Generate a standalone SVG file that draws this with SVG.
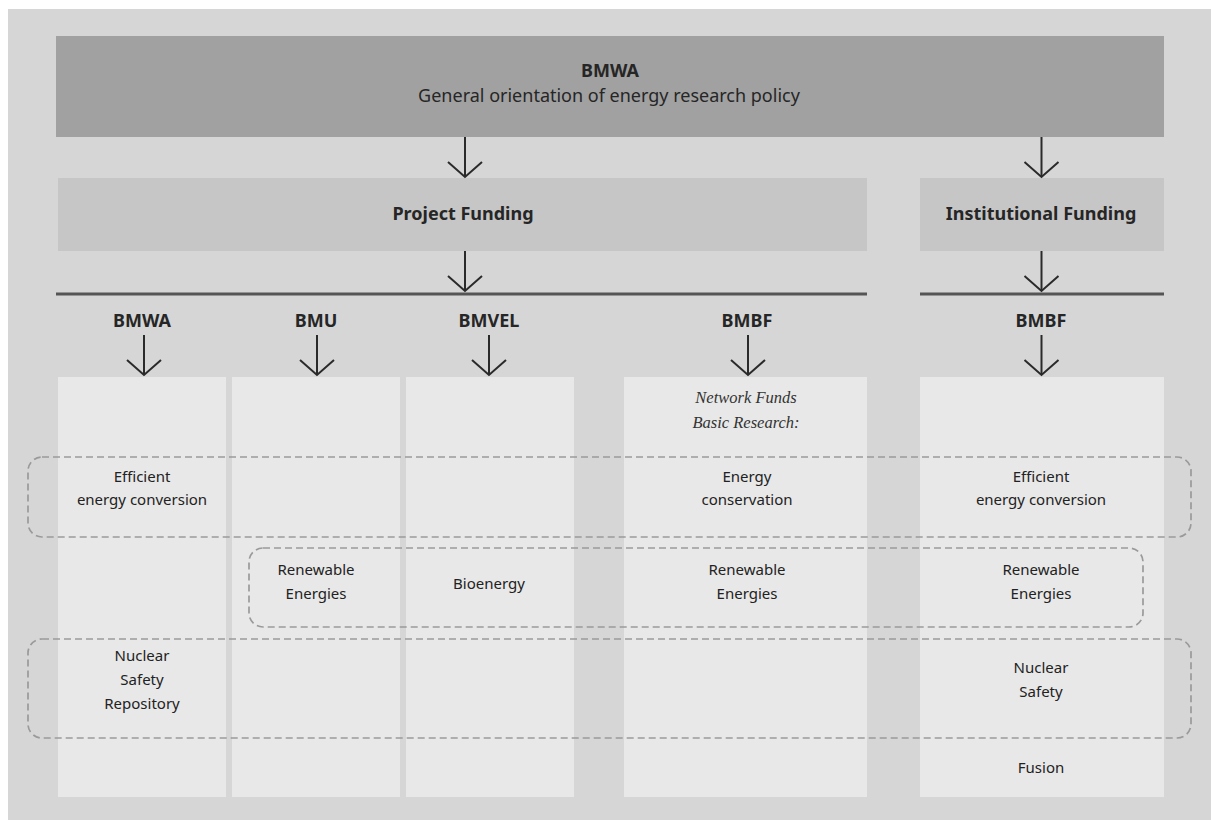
<svg xmlns="http://www.w3.org/2000/svg" width="1211" height="820" viewBox="0 0 1211 820">
<defs>
<style>
.hd{font-family:"Noto Sans","Liberation Sans",sans-serif;font-weight:bold;font-size:18px;fill:#262626;text-anchor:middle}
.sub{font-family:"Noto Sans","Liberation Sans",sans-serif;font-size:18px;fill:#262626;text-anchor:middle}
.lb{font-family:"Noto Sans","Liberation Sans",sans-serif;font-size:15px;fill:#222;text-anchor:middle}
.it{font-family:"Liberation Serif","DejaVu Serif",serif;font-style:italic;font-size:16.5px;fill:#333;text-anchor:middle}
.col{fill:#e8e8e8}
.arr{stroke:#2a2a2a;stroke-width:2;fill:none;marker-end:url(#v)}
.rule{stroke:#555;stroke-width:3}
.dash{fill:none;stroke:#9a9a9a;stroke-width:1.7;stroke-dasharray:7 4}
</style>
<marker id="v" markerUnits="userSpaceOnUse" viewBox="-20 -20 40 40" markerWidth="40" markerHeight="40" refX="0" refY="0" orient="auto" overflow="visible">
<path d="M-15,-17 L0,0 L-15,17" fill="none" stroke="#2a2a2a" stroke-width="2" stroke-linejoin="miter"/>
</marker>
</defs>
<rect x="0" y="0" width="1211" height="820" fill="#ffffff"/>
<rect x="8" y="9" width="1203" height="811" fill="#d6d6d6"/>

<g id="top">
<rect x="56" y="36" width="1108" height="101" fill="#a1a1a1"/>
<text class="hd" x="610" y="77">BMWA</text>
<text class="sub" x="609" y="102">General orientation of energy research policy</text>
</g>

<g id="project-funding">
<rect x="58" y="178" width="809" height="73" fill="#c6c6c6"/>
<text class="hd" x="463" y="220">Project Funding</text>
</g>

<g id="institutional-funding">
<rect x="920" y="178" width="244" height="73" fill="#c6c6c6"/>
<text class="hd" x="1041" y="220">Institutional Funding</text>
</g>

<g id="col-bmwa">
<text class="hd" x="142" y="327">BMWA</text>
<rect class="col" x="58" y="377" width="168" height="420"/>
</g>
<g id="col-bmu">
<text class="hd" x="316" y="327">BMU</text>
<rect class="col" x="232" y="377" width="168" height="420"/>
</g>
<g id="col-bmvel">
<text class="hd" x="489" y="327">BMVEL</text>
<rect class="col" x="406" y="377" width="168" height="420"/>
</g>
<g id="col-bmbf-project">
<text class="hd" x="747" y="327">BMBF</text>
<rect class="col" x="624" y="377" width="243" height="420"/>
<text class="it" x="746" y="403">Network Funds</text>
<text class="it" x="746" y="428">Basic Research:</text>
</g>
<g id="col-bmbf-inst">
<text class="hd" x="1041" y="327">BMBF</text>
<rect class="col" x="920" y="377" width="244" height="420"/>
</g>

<g id="connectors">
<line class="rule" x1="56" y1="294" x2="867" y2="294"/>
<line class="rule" x1="920" y1="294" x2="1164" y2="294"/>
<line class="arr" x1="465" y1="137" x2="465" y2="177"/>
<line class="arr" x1="1041.5" y1="137" x2="1041.5" y2="177"/>
<line class="arr" x1="465" y1="251" x2="465" y2="291"/>
<line class="arr" x1="1041.5" y1="251" x2="1041.5" y2="291"/>
<line class="arr" x1="144" y1="335" x2="144" y2="375"/>
<line class="arr" x1="317" y1="335" x2="317" y2="375"/>
<line class="arr" x1="489" y1="335" x2="489" y2="375"/>
<line class="arr" x1="748" y1="335" x2="748" y2="375"/>
<line class="arr" x1="1041.5" y1="335" x2="1041.5" y2="375"/>
</g>

<g id="group-efficient">
<rect class="dash" x="28" y="457" width="1163" height="80" rx="14"/>
<text class="lb" x="142" y="482">Efficient</text>
<text class="lb" x="142" y="505">energy conversion</text>
<text class="lb" x="747" y="482">Energy</text>
<text class="lb" x="747" y="505">conservation</text>
<text class="lb" x="1041" y="482">Efficient</text>
<text class="lb" x="1041" y="505">energy conversion</text>
</g>

<g id="group-renewable">
<rect class="dash" x="249" y="548" width="894" height="79" rx="14"/>
<text class="lb" x="316" y="575">Renewable</text>
<text class="lb" x="316" y="599">Energies</text>
<text class="lb" x="489" y="589">Bioenergy</text>
<text class="lb" x="747" y="575">Renewable</text>
<text class="lb" x="747" y="599">Energies</text>
<text class="lb" x="1041" y="575">Renewable</text>
<text class="lb" x="1041" y="599">Energies</text>
</g>

<g id="group-nuclear">
<rect class="dash" x="28" y="639" width="1163" height="99" rx="14"/>
<text class="lb" x="142" y="661">Nuclear</text>
<text class="lb" x="142" y="685">Safety</text>
<text class="lb" x="142" y="709">Repository</text>
<text class="lb" x="1041" y="673">Nuclear</text>
<text class="lb" x="1041" y="697">Safety</text>
</g>

<g id="fusion">
<text class="lb" x="1041" y="773">Fusion</text>
</g>
</svg>
